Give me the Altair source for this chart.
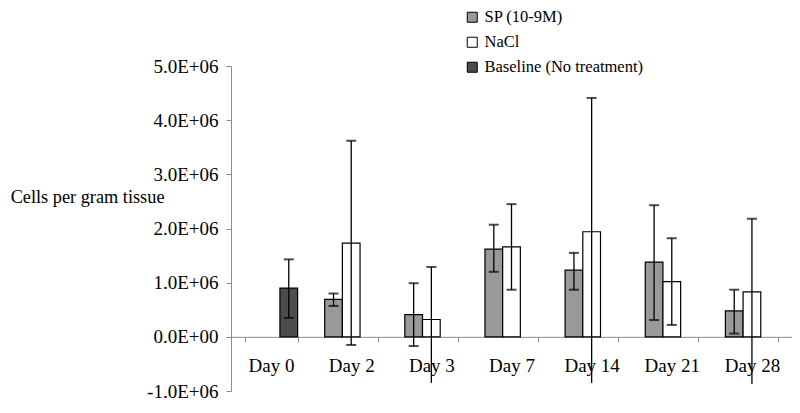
import altair as alt
import pandas as pd

days = ["Day 0", "Day 2", "Day 3", "Day 7", "Day 14", "Day 21", "Day 28"]
series = ["SP (10-9M)", "NaCl", "Baseline (No treatment)"]
colors = ["#999999", "#ffffff", "#4d4d4d"]

# values in cells per gram tissue
sp_mean = [None, 0.69e6, 0.41e6, 1.62e6, 1.23e6, 1.38e6, 0.48e6]
sp_lo = [None, 0.57e6, -0.17e6, 1.20e6, 0.87e6, 0.31e6, 0.06e6]
sp_hi = [None, 0.80e6, 0.99e6, 2.07e6, 1.55e6, 2.43e6, 0.87e6]

nacl_mean = [None, 1.73e6, 0.32e6, 1.66e6, 1.94e6, 1.02e6, 0.83e6]
nacl_lo = [None, -0.15e6, -0.85e6, 0.87e6, -0.85e6, 0.22e6, -0.87e6]
nacl_hi = [None, 3.62e6, 1.29e6, 2.45e6, 4.41e6, 1.82e6, 2.18e6]

base_mean = [0.90e6, None, None, None, None, None, None]
base_lo = [0.35e6, None, None, None, None, None, None]
base_hi = [1.43e6, None, None, None, None, None, None]

y_tick_values = [5e6, 4e6, 3e6, 2e6, 1e6, 0, -1e6]
y_tick_labels = ["5.0E+06", "4.0E+06", "3.0E+06", "2.0E+06", "1.0E+06", "0.0E+00", "-1.0E+06"]

rows = []
for s, (m, lo, hi) in zip(series, [(sp_mean, sp_lo, sp_hi), (nacl_mean, nacl_lo, nacl_hi), (base_mean, base_lo, base_hi)]):
    for d, mv, lv, hv in zip(days, m, lo, hi):
        if mv is not None:
            rows.append({"day": d, "series": s, "mean": mv, "lo": lv, "hi": hv})
df = pd.DataFrame(rows)

ymin, ymax = -1e6, 5e6
W, H = 561, 325
zero_off = -H * (0 - ymin) / (ymax - ymin)
FONT = "Liberation Serif"

label_expr = "[" + ",".join("'%s'" % l for l in y_tick_labels) + "][indexof([" + ",".join(str(int(v)) for v in y_tick_values) + "], datum.value)]"

x_enc = alt.X("day:N", sort=days,
              scale=alt.Scale(paddingInner=0.3375, paddingOuter=0.16875),
              axis=alt.Axis(title=None, labelAngle=0, offset=zero_off, tickBand="extent",
                            domainColor="#8c8c8c", tickColor="#8c8c8c", tickSize=5,
                            labelFontSize=19, labelPadding=15, labelColor="black",
                            labelFont=FONT))
xo_enc = alt.XOffset("series:N", sort=series, scale=alt.Scale(domain=series, paddingInner=0, paddingOuter=0))
y_scale = alt.Scale(domain=[ymin, ymax], nice=False, zero=False)

base = alt.Chart(df)

bars = base.mark_bar(stroke="black", strokeWidth=1.2).encode(
    x=x_enc,
    xOffset=xo_enc,
    y=alt.Y("mean:Q", scale=y_scale,
            axis=alt.Axis(values=y_tick_values, labelExpr=label_expr, grid=False,
                          title="Cells per gram tissue", titleAngle=0, titleAlign="right",
                          titleBaseline="alphabetic", titleX=-67, titleY=136,
                          titleFontSize=18.3, titleFontWeight="normal", titleFont=FONT,
                          titleColor="black",
                          labelFontSize=19, labelFont=FONT, labelColor="black",
                          labelPadding=8, tickSize=5, domainColor="#8c8c8c", tickColor="#8c8c8c")),
    y2=alt.datum(0),
    fill=alt.Fill("series:N", sort=series,
                  scale=alt.Scale(domain=series, range=colors),
                  legend=alt.Legend(title=None, orient="none", legendX=233, legendY=-57,
                                    symbolType="square", symbolSize=100, symbolStrokeColor="black",
                                    symbolStrokeWidth=1, labelFontSize=16.5, labelFont=FONT,
                                    labelColor="black", labelOffset=4, rowPadding=8, padding=0)),
)

rules = base.mark_rule(color="black", strokeWidth=1.3).encode(
    x=alt.X("day:N", sort=days), xOffset=xo_enc,
    y=alt.Y("lo:Q", scale=y_scale), y2="hi:Q")

cap_hi = base.mark_tick(color="black", size=10, thickness=2, orient="horizontal").encode(
    x=alt.X("day:N", sort=days), xOffset=xo_enc, y=alt.Y("hi:Q", scale=y_scale))

cap_lo = base.transform_filter("datum.lo > -800000").mark_tick(
    color="black", size=10, thickness=2, orient="horizontal").encode(
    x=alt.X("day:N", sort=days), xOffset=xo_enc, y=alt.Y("lo:Q", scale=y_scale))

chart = alt.layer(bars, rules, cap_hi, cap_lo).properties(
    width=W, height=H,
    autosize=alt.AutoSizeParams(type="none"),
    padding={"left": 223, "top": 58, "right": 0, "bottom": 14},
).configure(font=FONT).configure_view(stroke=None)

chart.save("out.html", embed_options={"renderer": "svg", "actions": False})
